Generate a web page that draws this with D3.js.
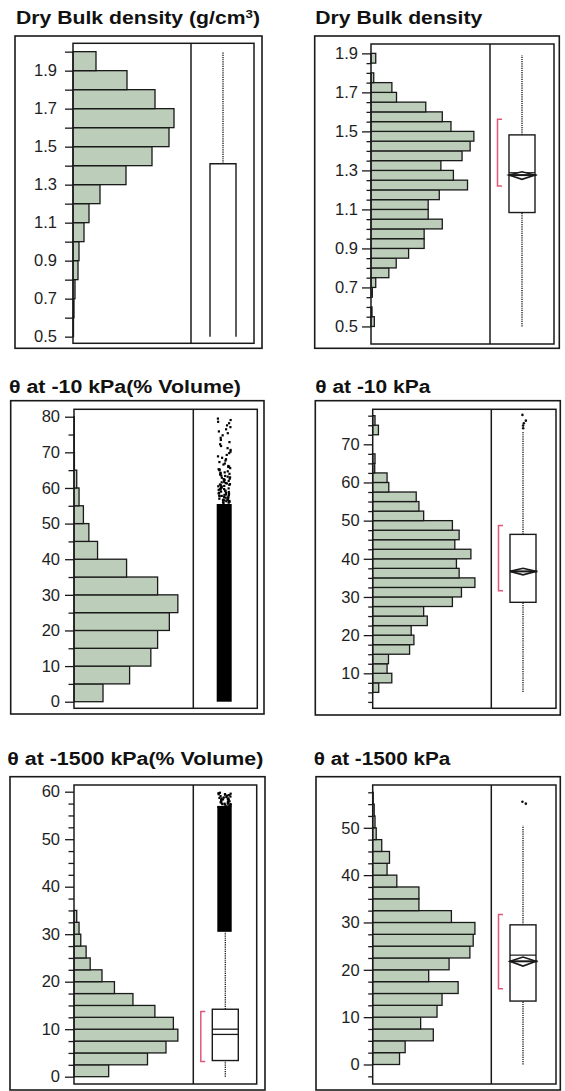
<!DOCTYPE html>
<html>
<head>
<meta charset="utf-8">
<script src="https://cdn.jsdelivr.net/npm/d3@7"></script>
<style>
  body { margin: 0; background: #fff; }
  text { font-family: "Liberation Sans", Arial, Helvetica, sans-serif; }
</style>
</head>
<body>
<svg id="chart" width="565" height="1091"></svg>
<script>
// ---- data ----
// histogram bins: lower edge of each bin, and relative frequency (bar length)
var bd1Lo   = [0.5, 0.6, 0.7, 0.8, 0.9, 1.0, 1.1, 1.2, 1.3, 1.4, 1.5, 1.6, 1.7, 1.8, 1.9];
var bd1Freq = [0.5, 1, 2, 5, 6, 11, 16, 27, 53, 79, 96, 101, 82, 54, 23];
var bd1Ticks  = [0.5, 0.6, 0.7, 0.8, 0.9, 1.0, 1.1, 1.2, 1.3, 1.4, 1.5, 1.6, 1.7, 1.8, 1.9, 2.0];
var bd1Labels = [0.5, 0.7, 0.9, 1.1, 1.3, 1.5, 1.7, 1.9];
var bd1Box    = [0.5, 0.5, null, 1.41, 2.0];          // min, q1, median, q3, max

var bd2Lo   = [0.5, 0.55, 0.6, 0.65, 0.7, 0.75, 0.8, 0.85, 0.9, 0.95, 1.0, 1.05, 1.1, 1.15,
               1.2, 1.25, 1.3, 1.35, 1.4, 1.45, 1.5, 1.55, 1.6, 1.65, 1.7, 1.75, 1.8, 1.85];
var bd2Freq = [3.3, 1, 0, 1.3, 4.7, 17.7, 25, 37.3, 52.7, 52.7, 70.7, 56.7, 56.7, 67.7,
               95.7, 81.7, 69.3, 90.3, 98.3, 102, 79.3, 70.7, 54.3, 25.3, 20.7, 2.7, 0, 4.7];
var bd2Labels = [0.5, 0.7, 0.9, 1.1, 1.3, 1.5, 1.7, 1.9];
var bd2Box    = [0.5, 1.084, 1.288, 1.482, 1.89];
var bd2Mean   = [1.254, 1.276, 1.293];                 // ci low, mean, ci high
var bd2Short  = [1.22, 1.562];

var w10Lo   = [0, 5, 10, 15, 20, 25, 30, 35, 40, 45, 50, 55, 60, 65, 70, 75];
var w10Freq = [28.7, 55, 76, 82.7, 94.3, 102.7, 82.7, 52, 23.3, 14.7, 9.3, 5, 2.7, 0.4, 0.3, 0.3];
var w10Labels = [0, 10, 20, 30, 40, 50, 60, 70, 80];
var w10Band   = [0, 55.5];
var w10Sparse = [79.5, 79.1, 78.6, 78.2, 77.6, 77.1, 76.5, 75.9, 75.4, 74.8, 74.1, 73.5, 72.9,
                 72.3, 71.8, 71.2, 70.7, 70.2, 69.8, 69.3, 68.9, 68.5, 68.1, 67.7, 67.3, 66.9,
                 66.6, 66.2, 65.9, 65.6, 65.3, 65.0, 64.7, 64.4, 64.1, 63.8, 63.5, 63.2, 62.9,
                 62.6, 62.3, 62.0, 61.7, 61.4, 61.1, 60.8, 60.5, 60.2, 59.9, 59.6, 59.3, 59.0,
                 58.7, 58.4, 58.1, 57.8, 57.5, 57.2, 56.9, 56.6, 56.3, 56.0, 55.8,
                 61.0, 60.4, 59.7, 59.1, 58.5, 57.9, 57.3, 56.7, 56.1, 58.2, 57.0, 56.4,
                 64.0, 63.0, 62.2, 61.6, 60.9, 60.1, 59.5, 58.9, 58.0, 57.6, 56.8, 56.2,
                 66.0, 65.2, 64.3, 63.4, 62.5, 61.3, 60.6, 59.8, 58.6, 57.7, 56.5, 55.9];

var w10bLo   = [2.5, 5, 7.5, 10, 12.5, 15, 17.5, 20, 22.5, 25, 27.5, 30, 32.5, 35, 37.5,
                40, 42.5, 45, 47.5, 50, 52.5, 55, 57.5, 60, 62.5, 65, 67.5, 70, 72.5, 75];
var w10bFreq = [0, 6, 19, 14.3, 15.7, 36.7, 41, 38.3, 54.3, 50.7, 79.3, 88.3, 101.7, 86, 83.3,
                97.7, 81.7, 86, 79.3, 50.7, 46, 43.3, 16, 14.3, 2, 2.3, 0, 0, 5.7, 2.3];
var w10bLabels = [10, 20, 30, 40, 50, 60, 70];
var w10bBox    = [5.1, 28.6, 36.7, 46.4, 73.3];
var w10bMean   = [35.8, 36.7, 37.5];
var w10bShort  = [31.6, 48.7];
var w10bOut    = [77.7, 76.2, 75.5, 74.9, 74.2];

var w1500Lo   = [0, 2.5, 5, 7.5, 10, 12.5, 15, 17.5, 20, 22.5, 25, 27.5, 30, 32.5];
var w1500Freq = [34.3, 72.7, 91, 102.7, 98.3, 80, 58.3, 40, 27.7, 16, 12, 6.7, 5, 2.7];
var w1500Labels = [0, 10, 20, 30, 40, 50, 60];
var w1500Box    = [0, 3.4, 8.9, 14.2, 30.5];
var w1500Lines  = [8.9, 10.0];
var w1500Short  = [3.2, 13.7];
var w1500Band   = [30.5, 57];
var w1500Sparse = [59.7, 59.6, 59.5, 59.3, 59.2, 59.0, 58.9, 58.7, 58.6, 58.4, 58.3, 58.1,
                   58.0, 57.8, 57.7, 57.5, 57.4, 57.2, 57.1, 56.9, 56.8, 56.6, 56.5, 56.3, 56.2,
                   59.4, 58.8, 58.2, 57.6, 57.0, 56.4, 59.8, 58.5, 57.3, 56.1,
                   59.1, 58.6, 57.9, 57.4, 56.7, 59.5, 58.4, 57.5, 56.9];

var w1500bLo   = [0, 2.5, 5, 7.5, 10, 12.5, 15, 17.5, 20, 22.5, 25, 27.5, 30, 32.5, 35,
                  37.5, 40, 42.5, 45, 47.5, 50, 52.5, 55];
var w1500bFreq = [26.7, 32.3, 60.3, 47.7, 64, 69, 85, 55.7, 76, 96.7, 100, 101.7, 78.3, 46, 46,
                  24, 14.3, 16.7, 9, 3.5, 2.3, 1.5, 0.5];
var w1500bLabels = [0, 10, 20, 30, 40, 50];
var w1500bBox    = [0, 13.4, 23.1, 29.5, 50.5];
var w1500bMean   = [20.8, 21.8, 22.7];
var w1500bShort  = [16.0, 31.7];
var w1500bOut    = [55.5, 55.1];

// ---- drawing ----
var svg = d3.select("#chart");
var INK = "#1a1a1a", SAGE = "#bccdb9", RED = "#e2587a";
var HW = 13; // half width of the box

// deterministic horizontal jitter (0..1) for point i
function jitter(i) {
    var s = Math.sin(i * 12.9898 + 4.1414) * 43758.5453;
    return s - Math.floor(s);
}

function drawPanel(p) {
    var g = svg.append("g");
    var y = d3.scaleLinear().domain(p.domain).range([p.inner[3], p.inner[1]]);
    var x = d3.scaleLinear().domain([0, 118]).range([p.inner[0], p.divider]);

    // title
    var t = g.append("text")
        .attr("x", p.titleX).attr("y", p.titleY)
        .attr("font-size", 17.5).attr("font-weight", "bold").attr("fill", "#111")
        .attr("textLength", p.titleW).attr("lengthAdjust", "spacingAndGlyphs");
    p.title.forEach(function (part) {
        var s = t.append("tspan").text(part[0]);
        if (part[1]) { s.attr("baseline-shift", "super").attr("font-size", 11); }
    });

    // outer frame
    g.append("rect")
        .attr("x", p.outer[0]).attr("y", p.outer[1])
        .attr("width", p.outer[2] - p.outer[0]).attr("height", p.outer[3] - p.outer[1])
        .attr("fill", "none").attr("stroke", INK).attr("stroke-width", 1.6);

    // histogram
    var bins = p.lo.map(function (lo, i) {
        return { lo: lo, hi: lo + p.binW, f: p.freq[i] };
    }).filter(function (d) { return d.f > 0; });

    g.selectAll(".bar")
        .data(bins)
        .join("rect")
        .attr("class", "bar")
        .attr("x", x(0))
        .attr("y", function (d) { return y(d.hi); })
        .attr("width", function (d) { return x(d.f) - x(0); })
        .attr("height", function (d) { return y(d.lo) - y(d.hi); })
        .attr("fill", SAGE).attr("stroke", INK).attr("stroke-width", 1.3);

    // inner frame + divider
    g.append("rect")
        .attr("x", p.inner[0]).attr("y", p.inner[1])
        .attr("width", p.inner[2] - p.inner[0]).attr("height", p.inner[3] - p.inner[1])
        .attr("fill", "none").attr("stroke", INK).attr("stroke-width", 1.5);
    g.append("line")
        .attr("x1", p.divider).attr("x2", p.divider)
        .attr("y1", p.inner[1]).attr("y2", p.inner[3])
        .attr("stroke", INK).attr("stroke-width", 1.5);

    // axis
    var isMajor = function (v) {
        return p.labels.some(function (l) { return Math.abs(l - v) < 1e-6; });
    };
    var fmt = d3.format(p.fmt);
    var axis = d3.axisLeft(y)
        .tickValues(p.ticks)
        .tickSize(p.major)
        .tickPadding(p.pad)
        .tickFormat(function (v) { return isMajor(v) ? fmt(v) : ""; });
    var axG = g.append("g")
        .attr("transform", "translate(" + p.inner[0] + ",0)")
        .call(axis)
        .attr("font-size", 16.5)
        .attr("font-family", "'Liberation Sans', Arial, sans-serif");
    axG.select(".domain").remove();
    axG.selectAll(".tick line")
        .attr("x2", function (v) { return isMajor(v) ? -p.major : -p.minor; })
        .attr("stroke", INK).attr("stroke-width", 1.3);
    axG.selectAll(".tick text").attr("fill", "#1e1e1e");

    var cx = p.cx;

    // jittered column of points (dense band + sparse points)
    if (p.band) {
        g.append("rect")
            .attr("x", p.jit[0]).attr("width", p.jit[1] - p.jit[0])
            .attr("y", y(p.band[1])).attr("height", y(p.band[0]) - y(p.band[1]))
            .attr("fill", "#000");
        g.selectAll(".pt")
            .data(p.sparse)
            .join("rect")
            .attr("class", "pt")
            .attr("x", function (d, i) { return p.jit[0] + jitter(i) * (p.jit[1] - p.jit[0] - 2); })
            .attr("y", function (d) { return y(d) - 1; })
            .attr("width", 2.2).attr("height", 2.2)
            .attr("fill", "#000");
    }

    if (!p.box) { return; }
    var b = p.box;

    var dotted = function (v0, v1) {
        g.append("line")
            .attr("x1", cx).attr("x2", cx)
            .attr("y1", y(v0)).attr("y2", y(v1))
            .attr("stroke", "#111").attr("stroke-width", 1.3)
            .attr("stroke-dasharray", "1.2,1");
    };
    dotted(b[3], b[4]);
    if (b[0] < b[1]) { dotted(b[0], b[1]); }

    if (p.openBox) {
        g.append("path")
            .attr("d", "M" + (cx - HW) + "," + y(b[1]) + "V" + y(b[3]) + "H" + (cx + HW) + "V" + y(b[1]))
            .attr("fill", "none").attr("stroke", INK).attr("stroke-width", 1.4);
    } else {
        g.append("rect")
            .attr("x", cx - HW).attr("width", 2 * HW)
            .attr("y", y(b[3])).attr("height", y(b[1]) - y(b[3]))
            .attr("fill", "#fff").attr("stroke", INK).attr("stroke-width", 1.4);
    }

    if (p.lines) {
        p.lines.forEach(function (v) {
            g.append("line")
                .attr("x1", cx - HW).attr("x2", cx + HW)
                .attr("y1", y(v)).attr("y2", y(v))
                .attr("stroke", INK).attr("stroke-width", 1.3);
        });
    }

    if (p.mean) {
        var m = p.mean;
        g.append("line")
            .attr("x1", cx - HW).attr("x2", cx + HW)
            .attr("y1", y(b[2])).attr("y2", y(b[2]))
            .attr("stroke", INK).attr("stroke-width", 1.2);
        g.append("path")
            .attr("d", "M" + (cx - HW) + "," + y(m[1]) + "L" + cx + "," + y(m[2]) +
                "L" + (cx + HW) + "," + y(m[1]) + "L" + cx + "," + y(m[0]) + "Z")
            .attr("fill", "#fff").attr("stroke", INK).attr("stroke-width", 1.6);
        g.append("line")
            .attr("x1", cx - HW).attr("x2", cx + HW + 1.5)
            .attr("y1", y(m[1])).attr("y2", y(m[1]))
            .attr("stroke", INK).attr("stroke-width", 2);
    }

    if (p.short) {
        var bx = cx - 24.5;
        g.append("path")
            .attr("d", "M" + (bx + 4.5) + "," + y(p.short[1]) + "H" + bx + "V" + y(p.short[0]) + "H" + (bx + 4.5))
            .attr("fill", "none").attr("stroke", RED).attr("stroke-width", 1.5);
    }

    if (p.out) {
        g.selectAll(".out")
            .data(p.out)
            .join("circle")
            .attr("class", "out")
            .attr("cx", function (d, i) { return cx + jitter(i + 7) * 5 - 1; })
            .attr("cy", function (d) { return y(d); })
            .attr("r", 1.3)
            .attr("fill", "#111");
    }
}

drawPanel({
    title: [["Dry Bulk density (g/cm"], ["3", true], [")"]],
    titleX: 16, titleY: 24, titleW: 244,
    outer: [15, 36, 262, 348.3], inner: [73, 43.3, 254, 343.3], divider: 191,
    domain: [0.465, 2.044],
    lo: bd1Lo, freq: bd1Freq, binW: 0.1,
    ticks: bd1Ticks, labels: bd1Labels, fmt: ".1f", major: 8, minor: 8, pad: 8,
    cx: 223, box: bd1Box, openBox: true
});

drawPanel({
    title: [["Dry Bulk density"]],
    titleX: 315.3, titleY: 24, titleW: 167,
    outer: [314.7, 36, 559.3, 348.3], inner: [371, 44, 554, 344], divider: 490,
    domain: [0.41, 1.948],
    lo: bd2Lo, freq: bd2Freq, binW: 0.05,
    ticks: d3.range(0.5, 1.9001, 0.05), labels: bd2Labels, fmt: ".1f", major: 9, minor: 4.5, pad: 4,
    cx: 522, box: bd2Box, mean: bd2Mean, short: bd2Short
});

drawPanel({
    title: [["\u03b8 at -10 kPa(% Volume)"]],
    titleX: 9, titleY: 393.3, titleW: 232,
    outer: [10.7, 400.7, 264, 714], inner: [74, 409.3, 257.3, 708.3], divider: 193.3,
    domain: [-1.85, 82.08],
    lo: w10Lo, freq: w10Freq, binW: 5,
    ticks: d3.range(0, 80.01, 5), labels: w10Labels, fmt: "d", major: 9, minor: 5.5, pad: 5,
    cx: 224, band: w10Band, sparse: w10Sparse, jit: [216.7, 231.7]
});

drawPanel({
    title: [["\u03b8 at -10 kPa"]],
    titleX: 315.3, titleY: 393.3, titleW: 115,
    outer: [315.3, 400.7, 560.3, 715], inner: [372.7, 409.3, 556, 708.3], divider: 491.3,
    domain: [0.83, 79.17],
    lo: w10bLo, freq: w10bFreq, binW: 2.5,
    ticks: d3.range(2.5, 77.51, 2.5), labels: w10bLabels, fmt: "d", major: 9, minor: 4.5, pad: 4,
    cx: 523, box: w10bBox, mean: w10bMean, short: w10bShort, out: w10bOut
});

drawPanel({
    title: [["\u03b8 at -1500 kPa(% Volume)"]],
    titleX: 7.3, titleY: 765, titleW: 256,
    outer: [10, 776.7, 265, 1090], inner: [74, 785, 256.7, 1084], divider: 193.3,
    domain: [-1.54, 61.41],
    lo: w1500Lo, freq: w1500Freq, binW: 2.5,
    ticks: d3.range(0, 60.01, 2.5), labels: w1500Labels, fmt: "d", major: 9, minor: 5.5, pad: 5,
    cx: 225.3, box: w1500Box, lines: w1500Lines, short: w1500Short,
    band: w1500Band, sparse: w1500Sparse, jit: [217.3, 231.7]
});

drawPanel({
    title: [["\u03b8 at -1500 kPa"]],
    titleX: 313.7, titleY: 765, titleW: 136.7,
    outer: [316, 776.7, 560.3, 1090], inner: [372.7, 785, 556, 1084], divider: 491.3,
    domain: [-4.12, 59.04],
    lo: w1500bLo, freq: w1500bFreq, binW: 2.5,
    ticks: d3.range(-2.5, 57.51, 2.5), labels: w1500bLabels, fmt: "d", major: 9, minor: 4.5, pad: 4,
    cx: 523, box: w1500bBox, mean: w1500bMean, short: w1500bShort, out: w1500bOut
});
</script>
</body>
</html>
